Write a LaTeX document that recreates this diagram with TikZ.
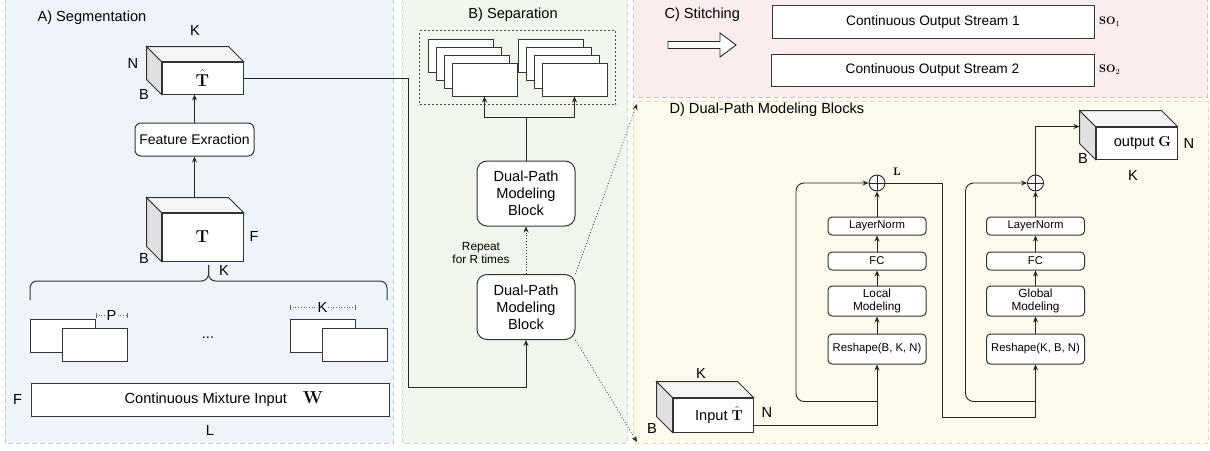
\documentclass[tikz,border=0pt]{standalone}
\usepackage[no-math]{fontspec}
\setmainfont{Liberation Sans}
\usepackage{amsmath}
\usepackage{xcolor}
\usetikzlibrary{arrows.meta,calc,fit,positioning}

\definecolor{segbg}{RGB}{239,244,251}
\definecolor{segln}{RGB}{192,202,218}
\definecolor{sepbg}{RGB}{240,246,236}
\definecolor{sepln}{RGB}{200,220,190}
\definecolor{stibg}{RGB}{251,237,237}
\definecolor{stiln}{RGB}{232,182,182}
\definecolor{dpmbg}{RGB}{253,249,236}
\definecolor{dpmln}{RGB}{240,218,165}

\begin{document}
\begin{tikzpicture}[x=1pt,y=-1pt,
    f10/.style={font=\fontsize{11.3}{14}\selectfont},
    f12/.style={font=\fontsize{13.7}{16}\selectfont},
    f13/.style={font=\fontsize{14.6}{17}\selectfont},
    panel/.style={line width=0.8pt, dash pattern=on 5pt off 3pt},
    box/.style={draw=black!80, fill=white, line width=1pt, inner sep=0pt},
    rbox/.style={box, rounded corners=4pt},
    blk/.style={rbox, minimum width=98pt, f10},
    dpblock/.style={rbox, rounded corners=10pt, minimum width=98pt, minimum height=65pt, align=center, f13},
    arr/.style={-{Stealth[length=6pt,width=5pt]}, line width=0.9pt, draw=black!85},
    dimln/.style={{Bar[width=5pt]}-{Bar[width=5pt]}, dotted, line width=0.7pt, draw=black!60},
    addop/.style={circle, draw=black!85, line width=0.9pt, fill=white, minimum size=16pt, inner sep=0pt,
      path picture={\draw[line width=0.8pt] (path picture bounding box.north) -- (path picture bounding box.south)
        (path picture bounding box.west) -- (path picture bounding box.east);}}]
  \useasboundingbox (0,0) rectangle (1210,450);

  % panels
  \draw[panel, draw=segln, fill=segbg] (5,-2) rectangle (393,443);
  \draw[panel, draw=sepln, fill=sepbg] (402,-2) rectangle (627,443);
  \draw[panel, draw=stiln, fill=stibg] (633,-2) rectangle (1207,97);
  \draw[panel, draw=dpmln, fill=dpmbg] (633,101) rectangle (1208,443);
  \node[f13, anchor=west] (titleA) at (34,18) {A) Segmentation};
  \node[f13] (titleB) at (513,15) {B) Separation};
  \node[f13, anchor=west] (titleC) at (661,15) {C) Stitching};
  \node[f13, anchor=west] (titleD) at (666,110) {D) Dual-Path Modeling Blocks};

  % A) segmentation
  \node[box, minimum width=81pt, minimum height=32pt, font=\fontsize{18}{18}\selectfont] (tHat) at (202.5,78) {$\hat{\mathbf{T}}$};
  \node[rbox, rounded corners=6pt, minimum width=119pt, minimum height=33pt, font=\fontsize{14}{16}\selectfont] (featEx) at (194.5,139.5) {Feature Exraction};
  \node[box, minimum width=81pt, minimum height=48pt, font=\fontsize{18}{18}\selectfont] (tSeg) at (202.5,237) {$\mathbf{T}$};
  \node[f13] (tHatK) at (195,30) {K};
  \node[f13] (tHatN) at (133,63) {N};
  \node[f13] (tHatB) at (144,94) {B};
  \node[f13] (tSegF) at (254,236) {F};
  \node[f13] (tSegB) at (144,258) {B};
  \node[f13] (tSegK) at (224,270) {K};
  \coordinate (tSegTop) at ($(tSeg.north)+(-8,-16)$);
  \draw[arr] (tSegTop) -- (featEx.south);
  \draw[arr] (featEx.north) -- (featEx.north |- tHat.south);

  % brace over the chunks
  \draw[line width=1pt, draw=black!80, rounded corners=7pt] (30,300) |- (208.5,281) -- (208.5,265);
  \draw[line width=1pt, draw=black!80, rounded corners=7pt] (387,300) |- (208.5,281) -- (208.5,265);

  \node[box, minimum width=65pt, minimum height=33pt] (pL1) at (62.5,335.5) {};
  \node[box, minimum width=65pt, minimum height=33pt] (pL2) at (94.5,344.5) {};
  \node[box, minimum width=65pt, minimum height=33pt] (pR1) at (322.5,335.5) {};
  \node[box, minimum width=65pt, minimum height=33pt] (pR2) at (355,344.5) {};
  \draw[dimln] ($(pL1.north east)+(0,-3)$) -- node[f13, fill=segbg, inner sep=1pt] (pLbl) {P} ($(pL2.north east)+(0,-12)$);
  \draw[dimln] ($(pR1.north west)+(0,-11)$) -- node[f13, fill=segbg, inner sep=1pt] (kLbl) {K} ($(pR1.north east)+(0,-11)$);
  \node[f13] (dots) at (208,338) {...};

  \node[box, minimum width=358pt, minimum height=33pt, f13] (mixIn) at (210,399.5)
    {\hspace*{28pt}Continuous Mixture Input\hspace{16pt}{\fontsize{18}{18}\selectfont$\mathbf{W}$}};
  \node[f13, left=5pt of mixIn] (mixF) {F};
  \node[f13, below=5pt of mixIn] (mixL) {L};

  % B) separation
  \node[dpblock] (dpmbHi) at (526,193.5) {Dual-Path\\Modeling\\Block};
  \node[dpblock] (dpmbLo) at (526,307) {Dual-Path\\Modeling\\Block};
  \node[align=center, font=\fontsize{11.8}{13.5}\selectfont] (rpt) at (481,253) {Repeat\\for R times};
  \draw[arr, dotted] (dpmbLo.north) -- (dpmbHi.south);
  \foreach \i in {0,...,3} {
    \node[box, minimum width=65pt, minimum height=33pt] (sl\i) at (460.5+8*\i,55.5+8*\i) {};
    \node[box, minimum width=65pt, minimum height=33pt] (sr\i) at (550.5+8*\i,55.5+8*\i) {};
  }
  \node[draw=black!70, line width=0.8pt, dash pattern=on 2pt off 2pt, fit=(sl0)(sr3), inner sep=8pt] (stackBox) {};
  \draw[arr] (dpmbHi.north) -- ++(0,-43) coordinate (fork) -| (sl3.south);
  \draw[arr] (fork) -| (sr3.south);
  \draw[arr] (tHat.east) -| (408,387) -| (dpmbLo.south);

  \coordinate (dTL) at (637,104);
  \coordinate (dBL) at (637,442);
  \draw[arr, dotted, line width=0.7pt] (dpmbLo.north east) -- (dTL);
  \draw[arr, dotted, line width=0.7pt] (dpmbLo.south east) -- (dBL);

  % C) stitching
  \node[box, minimum width=322pt, minimum height=33pt, f12] (so1) at (933,21.5) {Continuous Output Stream 1};
  \node[box, minimum width=323pt, minimum height=32pt, f12] (so2) at (932.5,70) {Continuous Output Stream 2};
  \node[right=1pt of so1, font=\fontsize{11}{11}\selectfont] (so1Lbl) {$\mathbf{SO}_1$};
  \node[right=1pt of so2, font=\fontsize{11}{11}\selectfont] (so2Lbl) {$\mathbf{SO}_2$};
  \draw[line width=0.9pt, draw=black!85, fill=white] (668,41.5) -- (720,41.5) -- (720,33) -- (736,45)
    -- (720,57) -- (720,48.5) -- (668,48.5) -- cycle;

  % D) dual-path blocks
  \node[box, minimum width=80pt, minimum height=34pt, f13] (inT) at (713,415) {\hspace*{12pt}Input $\hat{\mathbf{T}}$};
  \node[f13] (inTK) at (701,373) {K};
  \node[f13] (inTN) at (767,412) {N};
  \node[f13] (inTB) at (652,428) {B};

  \node[blk, minimum height=30pt] (rs1) at (877,349) {Reshape(B, K, N)};
  \node[blk, minimum height=30pt, align=center, font=\fontsize{11.8}{13.5}\selectfont, above=17pt of rs1] (lm) {Local\\Modeling};
  \node[blk, minimum height=18pt, above=15pt of lm] (fc1) {FC};
  \node[blk, minimum height=18pt, above=16pt of fc1] (ln1) {LayerNorm};
  \node[addop] (plus1) at (877,183) {};
  \node[font=\fontsize{11}{11}\selectfont] (lLbl) at (897,172) {$\mathbf{L}$};

  \node[blk, minimum height=30pt] (rs2) at (1035.5,349) {Reshape(K, B, N)};
  \node[blk, minimum height=30pt, align=center, font=\fontsize{11.8}{13.5}\selectfont, above=17pt of rs2] (gm) {Global\\Modeling};
  \node[blk, minimum height=18pt, above=15pt of gm] (fc2) {FC};
  \node[blk, minimum height=18pt, above=16pt of fc2] (ln2) {LayerNorm};
  \node[addop] (plus2) at (1035.5,183) {};

  \node[box, minimum width=81pt, minimum height=32pt, f13] (outG) at (1136.5,143) {\hspace*{12pt}output $\mathbf{G}$};
  \node[f13] (outGB) at (1083,158) {B};
  \node[f13] (outGN) at (1189,143) {N};
  \node[f13] (outGK) at (1133,175) {K};

  \foreach \a/\b in {rs1/lm, lm/fc1, fc1/ln1, ln1/plus1, rs2/gm, gm/fc2, fc2/ln2, ln2/plus2}
    \draw[arr] (\a) -- (\b);
  \draw[arr] ($(inT.south east)+(0,-7)$) -| (rs1.south);
  \coordinate (br1) at ($(rs1.south)+(0,37)$);
  \draw[arr, rounded corners=8pt] (br1) -- ++(-81,0) |- (plus1.west);
  \draw[arr] (plus1.east) -| (942,417) -| (rs2.south);
  \coordinate (br2) at ($(rs2.south)+(0,37)$);
  \draw[arr, rounded corners=8pt] (br2) -- ++(-70,0) |- (plus2.west);
  \draw[arr] (plus2.north) |- ($(outG.north west)+(-16,0)$);

  % cuboid side and top faces
  \foreach \cname/\dep in {tHat/15, tSeg/15, inT/16, outG/16} {
    \filldraw[draw=black!80, line width=1pt, fill=black!12] (\cname.north west) -- ++(-\dep,-\dep)
      -- ($(\cname.south west)+(-\dep,-\dep)$) -- (\cname.south west) -- cycle;
    \filldraw[draw=black!80, line width=1pt, fill=black!4] (\cname.north west) -- ++(-\dep,-\dep)
      -- ($(\cname.north east)+(-\dep,-\dep)$) -- (\cname.north east) -- cycle;
  }
\end{tikzpicture}
\end{document}
